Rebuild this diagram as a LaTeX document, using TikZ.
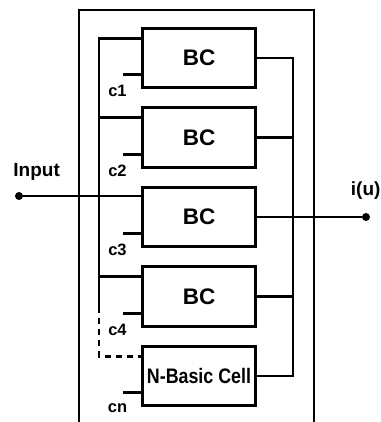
\documentclass[tikz,border=0pt]{standalone}
\usepackage{fontspec}
\setmainfont{Liberation Sans}
\newfontfamily\narrowfont[FakeStretch=0.85]{Liberation Sans}
\usetikzlibrary{positioning}

\begin{document}
\begin{tikzpicture}[x=1pt, y=1pt, node distance=20pt, line width=2.8pt,
		cell/.style={draw, minimum width=113pt, minimum height=59.5pt, inner sep=0pt, outer sep=0pt,
			font=\bfseries\fontsize{22.5}{26}\selectfont},
		ctl/.style={inner sep=0pt, font=\bfseries\fontsize{16.5}{18}\selectfont},
		lbl/.style={inner sep=0pt, font=\bfseries\fontsize{19}{21}\selectfont},
		dot/.style={circle, fill, inner sep=0pt, outer sep=0pt, minimum size=8pt}]
	\useasboundingbox (0,0) rectangle (380,422);
	
	% outer block, open at the bottom
	\draw (79,0) |- (314,412) -- (314,0);
	
	\node[cell] (bc1) at (199,364) {BC};
	\node[cell, below=of bc1] (bc2) {BC};
	\node[cell, below=of bc2] (bc3) {BC};
	\node[cell, below=of bc3] (bc4) {BC};
	\node[cell, below=of bc4, font=\narrowfont\bfseries\fontsize{21}{24}\selectfont] (nbc) {N-Basic Cell};
	
	\node[dot] (in) at (19,226) {};
	\node[dot] (out) at (366,205) {};
	\node[lbl, anchor=base west] (inlbl) at (12,245) {Input};
	\node[lbl, anchor=west] (outlbl) at (349.5,231) {i(u)};
	
	% control inputs
	\foreach \b/\c in {bc1/c1, bc2/c2, bc3/c3, bc4/c4, nbc/cn} {
		\draw ([yshift=13pt]\b.south west) -- ++(-20pt,0) coordinate (\c);
		\node[ctl, below=9pt of \c, xshift=-5pt] (\c-lbl) {\c};
	}
	
	% left bus
	\coordinate (brk) at ([yshift=-40pt]bc4.north west);
	\draw ([yshift=-10pt]bc1.north west) -- ++(-43.5pt,0) coordinate (ltop) -- (ltop |- brk);
	\foreach \b in {bc2, bc4}
		\draw ([yshift=-10pt]\b.north west) -- ++(-43.5pt,0);
	\draw[dash pattern=on 6pt off 5pt] (ltop |- brk) |- ([yshift=-10pt]nbc.north west);
	\draw (in) -- (in -| bc3.west);
	
	% right bus
	\draw (bc1.east) -- ++(37.5pt,0) |- (nbc.east);
	\foreach \b in {bc2, bc4}
		\draw (\b.east) -- ++(37.5pt,0);
	\draw (bc3.east) -- (out);
\end{tikzpicture}
\end{document}
